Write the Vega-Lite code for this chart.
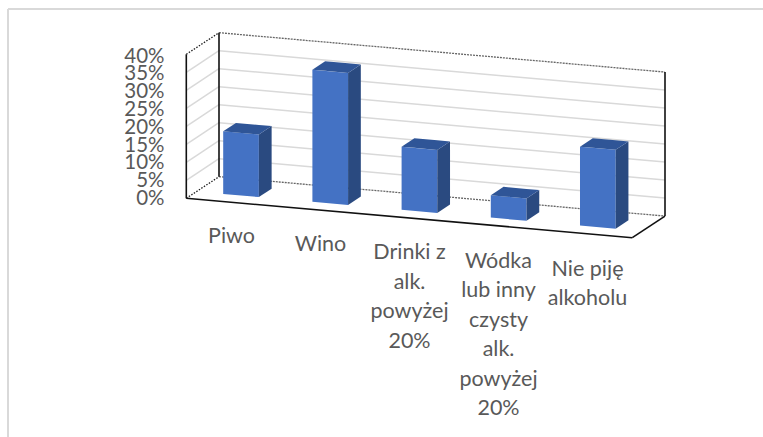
{
"$schema":"https://vega.github.io/schema/vega-lite/v6.json",
"width":763,"height":437,"padding":0,
"autosize":{"type":"fit","contains":"padding"},
"background":"#ffffff",
"config":{"view":{"stroke":null}},
"datasets":{
"bars":[
{"category":"Piwo","i":0,"value":17.4,"label":"Piwo"},
{"category":"Wino","i":1,"value":36.7,"label":"Wino"},
{"category":"Drinki z alk. powyżej 20%","i":2,"value":17.5,"label":"Drinki z|alk.|powyżej|20%"},
{"category":"Wódka lub inny czysty alk. powyżej 20%","i":3,"value":6.2,"label":"Wódka|lub inny|czysty|alk.|powyżej|20%"},
{"category":"Nie piję alkoholu","i":4,"value":21.9,"label":"Nie piję|alkoholu"}
],
"ticks":[
{"v":0,"label":"0%"},{"v":5,"label":"5%"},{"v":10,"label":"10%"},{"v":15,"label":"15%"},{"v":20,"label":"20%"},{"v":25,"label":"25%"},{"v":30,"label":"30%"},{"v":35,"label":"35%"},{"v":40,"label":"40%"}
],
"edges":[
{"kind":"dash","u0":0,"d0":1,"v0":40,"u1":5,"d1":1,"v1":40},
{"kind":"dash","u0":0,"d0":1,"v0":0,"u1":5,"d1":1,"v1":0},
{"kind":"dot","u0":0,"d0":0,"v0":40,"u1":0,"d1":1,"v1":40},
{"kind":"dot","u0":0,"d0":0,"v0":0,"u1":0,"d1":1,"v1":0},
{"kind":"solid","u0":0,"d0":0,"v0":0,"u1":0,"d1":0,"v1":40},
{"kind":"solid","u0":0,"d0":1,"v0":0,"u1":0,"d1":1,"v1":40},
{"kind":"solid","u0":5,"d0":1,"v0":0,"u1":5,"d1":1,"v1":40},
{"kind":"solid","u0":5,"d0":0,"v0":0,"u1":5,"d1":1,"v1":0},
{"kind":"solid","u0":0,"d0":0,"v0":0,"u1":5,"d1":0,"v1":0}
]
},
"encoding":{
"x":{"field":"px","type":"quantitative","axis":null,"scale":{"domain":[0,763],"range":[0,763],"nice":false,"zero":false}},
"y":{"field":"py","type":"quantitative","axis":null,"scale":{"domain":[0,437],"range":[0,437],"nice":false,"zero":false}}
},
"layer":[
{"data":{"values":[{"side":"left"}]},
 "transform":[{"calculate":"8","as":"px"},{"calculate":"8","as":"px2"},{"calculate":"9","as":"py"},{"calculate":"437","as":"py2"}],
 "mark":{"type":"rule","color":"#d9d9d9","strokeWidth":2},
 "encoding":{"x2":{"field":"px2"},"y2":{"field":"py2"}}},
{"data":{"values":[{"side":"top"}]},
 "transform":[{"calculate":"8","as":"px"},{"calculate":"763","as":"px2"},{"calculate":"9","as":"py"},{"calculate":"9","as":"py2"}],
 "mark":{"type":"rule","color":"#d9d9d9","strokeWidth":2},
 "encoding":{"x2":{"field":"px2"},"y2":{"field":"py2"}}},
{"data":{"name":"ticks"},
 "transform":[{"filter":"datum.v>0 && datum.v<40"},
  {"calculate":"186.3","as":"px"},{"calculate":"198.3-3.6*datum.v","as":"py"},
  {"calculate":"186.3+32.7","as":"px2"},{"calculate":"198.3-21.6-3.6*datum.v","as":"py2"}],
 "mark":{"type":"rule","color":"#d9d9d9","strokeWidth":1.5},
 "encoding":{"x2":{"field":"px2"},"y2":{"field":"py2"}}},
{"data":{"name":"ticks"},
 "transform":[{"filter":"datum.v>0 && datum.v<40"},
  {"calculate":"186.3+32.7","as":"px"},{"calculate":"198.3-21.6-3.6*datum.v","as":"py"},
  {"calculate":"186.3+32.7+446","as":"px2"},{"calculate":"198.3-21.6+39.4-3.6*datum.v","as":"py2"}],
 "mark":{"type":"rule","color":"#d9d9d9","strokeWidth":1.5},
 "encoding":{"x2":{"field":"px2"},"y2":{"field":"py2"}}},
{"data":{"name":"edges"},
 "transform":[{"filter":"datum.kind=='dash'"},
  {"calculate":"186.3+89.2*datum.u0+32.7*datum.d0","as":"px"},{"calculate":"198.3+7.88*datum.u0-21.6*datum.d0-3.6*datum.v0","as":"py"},
  {"calculate":"186.3+89.2*datum.u1+32.7*datum.d1","as":"px2"},{"calculate":"198.3+7.88*datum.u1-21.6*datum.d1-3.6*datum.v1","as":"py2"}],
 "mark":{"type":"rule","color":"#666666","strokeWidth":1.3,"strokeDash":[2,1]},
 "encoding":{"x2":{"field":"px2"},"y2":{"field":"py2"}}},
{"data":{"name":"edges"},
 "transform":[{"filter":"datum.kind=='dot'"},
  {"calculate":"186.3+89.2*datum.u0+32.7*datum.d0","as":"px"},{"calculate":"198.3+7.88*datum.u0-21.6*datum.d0-3.6*datum.v0","as":"py"},
  {"calculate":"186.3+89.2*datum.u1+32.7*datum.d1","as":"px2"},{"calculate":"198.3+7.88*datum.u1-21.6*datum.d1-3.6*datum.v1","as":"py2"}],
 "mark":{"type":"rule","color":"#222222","strokeWidth":1.3,"strokeDash":[1.5,1.5]},
 "encoding":{"x2":{"field":"px2"},"y2":{"field":"py2"}}},
{"data":{"name":"edges"},
 "transform":[{"filter":"datum.kind=='solid'"},
  {"calculate":"186.3+89.2*datum.u0+32.7*datum.d0","as":"px"},{"calculate":"198.3+7.88*datum.u0-21.6*datum.d0-3.6*datum.v0","as":"py"},
  {"calculate":"186.3+89.2*datum.u1+32.7*datum.d1","as":"px2"},{"calculate":"198.3+7.88*datum.u1-21.6*datum.d1-3.6*datum.v1","as":"py2"}],
 "mark":{"type":"rule","color":"#111111","strokeWidth":1.6},
 "encoding":{"x2":{"field":"px2"},"y2":{"field":"py2"}}},
{"data":{"name":"bars"},
 "transform":[{"calculate":"[0,1]","as":"t"},{"flatten":["t"]},
  {"calculate":"datum.i+0.3+0.4*datum.t","as":"u"},
  {"calculate":"186.3+89.2*datum.u+32.7*0.31","as":"px"},
  {"calculate":"198.3+7.88*datum.u-21.6*0.31-3.6*datum.value","as":"py"},
  {"calculate":"198.3+7.88*datum.u-21.6*0.31","as":"py2"}],
 "mark":{"type":"area","color":"#4472c4","opacity":1},
 "encoding":{"y2":{"field":"py2"},"detail":{"field":"category"}}},
{"data":{"name":"bars"},
 "transform":[{"calculate":"[0,1]","as":"t"},{"flatten":["t"]},
  {"calculate":"datum.i+0.7","as":"u"},
  {"calculate":"0.31+0.39*datum.t","as":"d"},
  {"calculate":"186.3+89.2*datum.u+32.7*datum.d","as":"px"},
  {"calculate":"198.3+7.88*datum.u-21.6*datum.d-3.6*datum.value","as":"py"},
  {"calculate":"198.3+7.88*datum.u-21.6*datum.d","as":"py2"}],
 "mark":{"type":"area","color":"#2a4a80","opacity":1},
 "encoding":{"y2":{"field":"py2"},"detail":{"field":"category"}}},
{"data":{"name":"bars"},
 "transform":[{"calculate":"[0,1,2,3]","as":"k"},{"flatten":["k"]},
  {"calculate":"datum.k<2?datum.i+0.3:(datum.k==2?datum.i+0.7-0.143:datum.i+0.7)","as":"topU"},
  {"calculate":"datum.k==0?0.31:0.7","as":"topD"},
  {"calculate":"datum.k==0?datum.i+0.3:(datum.k==1?datum.i+0.3+0.143:datum.i+0.7)","as":"botU"},
  {"calculate":"datum.k==3?0.7:0.31","as":"botD"},
  {"calculate":"186.3+89.2*datum.botU+32.7*datum.botD","as":"px"},
  {"calculate":"198.3+7.88*datum.topU-21.6*datum.topD-3.6*datum.value","as":"py"},
  {"calculate":"198.3+7.88*datum.botU-21.6*datum.botD-3.6*datum.value","as":"py2"}],
 "mark":{"type":"area","color":"#2f5597","opacity":1},
 "encoding":{"y2":{"field":"py2"},"detail":{"field":"category"}}},
{"data":{"name":"ticks"},
 "transform":[{"calculate":"164.5","as":"px"},{"calculate":"199-3.56*datum.v","as":"py"}],
 "mark":{"type":"text","align":"right","baseline":"middle","font":"Lato","fontSize":20.5,"color":"#595959"},
 "encoding":{"text":{"field":"label"}}},
{"data":{"name":"bars"},
 "transform":[{"calculate":"231.5+89*datum.i","as":"px"},{"calculate":"226+8.2*datum.i","as":"py"}],
 "mark":{"type":"text","align":"center","baseline":"top","font":"Lato","fontSize":21.5,"color":"#595959","lineBreak":"|","lineHeight":29.5},
 "encoding":{"text":{"field":"label"}}}
]
}
